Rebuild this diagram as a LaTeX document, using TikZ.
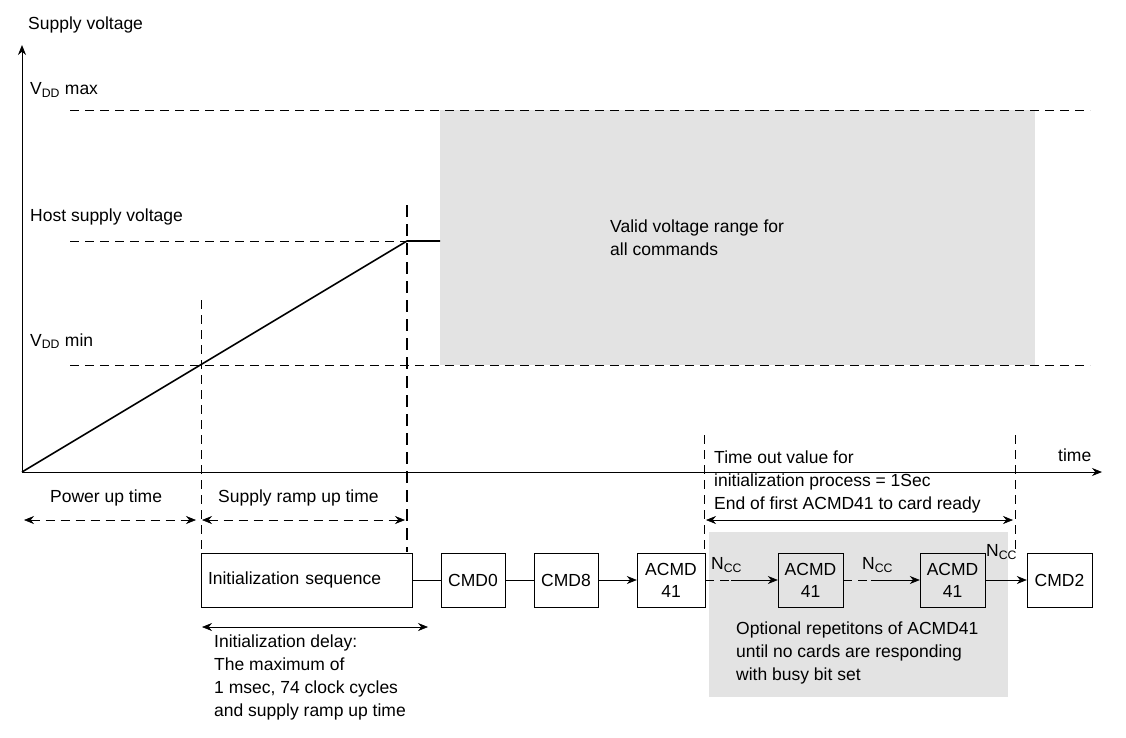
\documentclass[tikz,border=0pt]{standalone}
\usepackage{fontspec}
\setmainfont{Liberation Sans}
\usetikzlibrary{arrows.meta}
\begin{document}
\begin{tikzpicture}[x=1pt,y=-1pt,
  txt/.style={anchor=west,inner sep=0,font=\fontsize{17.5}{23}\selectfont,align=left},
  box/.style={draw,minimum height=54,inner sep=0,font=\fontsize{17.5}{22}\selectfont,align=center},
  dsh/.style={dash pattern=on 9pt off 6pt,line width=0.6pt},
  ar/.style={-{Stealth[length=10pt,width=8pt]},line width=0.6pt},
  dar/.style={{Stealth[length=10pt,width=8pt]}-{Stealth[length=10pt,width=8pt]},line width=0.6pt}]
\useasboundingbox (0,0) rectangle (1126,737);
\fill[gray!22] (440,110) rectangle (1035,365);
\fill[gray!22] (709,532) rectangle (1008,697);
% axes
\coordinate (o) at (22,472);
\coordinate (ytop) at (22,45);
\coordinate (xend) at (1102,472);
\draw[ar,line width=0.9pt] (o) -- (ytop);
\draw[ar,line width=0.9pt] (o) -- (xend);
\node[txt] (sv) at (28,25) {Supply voltage};
\node[txt] (tm) at (1058,455) {time};
% levels
\coordinate (m1) at (70,110); \coordinate (m2) at (1090,110);
\draw[dsh] (m1) -- (m2);
\coordinate (h1) at (70,241); \coordinate (h2) at (405,241);
\draw[dsh] (h1) -- (h2);
\coordinate (n1) at (70,365); \coordinate (n2) at (1090,365);
\draw[dsh] (n1) -- (n2);
\node[txt] (vmax) at (30,90) {V\textsubscript{DD} max};
\node[txt] (hsv) at (30,217) {Host supply voltage};
\node[txt] (vmin) at (30,341) {V\textsubscript{DD} min};
\node[txt] (valid) at (610,238) {Valid voltage range for\\all commands};
% ramp
\coordinate (rt) at (407,241); \coordinate (re) at (440,241);
\draw[line width=1.6pt] (o) -- (rt) -- (re);
% verticals
\coordinate (v1a) at (407,205); \coordinate (v1b) at (407,552);
\draw[line width=2.2pt,dash pattern=on 12pt off 7pt] (v1a) -- (v1b);
\coordinate (v2a) at (201,300); \coordinate (v2b) at (201,552);
\draw[dsh] (v2a) -- (v2b);
\coordinate (v3a) at (704,435); \coordinate (v3b) at (704,553);
\draw[dsh] (v3a) -- (v3b);
\coordinate (v4a) at (1015,435); \coordinate (v4b) at (1015,553);
\draw[dsh] (v4a) -- (v4b);
% time spans
\coordinate (p1) at (24,520); \coordinate (p2) at (196,520);
\draw[dar,dsh] (p1) -- (p2);
\node[txt] (pu) at (50,498) {Power up time};
\coordinate (s1) at (202,520); \coordinate (s2) at (405,520);
\draw[dar,dsh] (s1) -- (s2);
\node[txt] (sr) at (218,498) {Supply ramp up time};
\coordinate (t1) at (706,520); \coordinate (t2) at (1013,520);
\draw[dar] (t1) -- (t2);
\node[txt,anchor=north west] (to) at (714,451) {Time out value for\\initialization process = 1Sec\\End of first ACMD41 to card ready};
\coordinate (d1) at (202,627); \coordinate (d2) at (428,627);
\draw[dar] (d1) -- (d2);
\node[txt,anchor=north west] (dl) at (214,635) {Initialization delay:\\The maximum of\\1 msec, 74 clock cycles\\and supply ramp up time};
\node[txt,anchor=north west] (opt) at (736,622) {Optional repetitons of ACMD41\\until no cards are responding\\with busy bit set};
% sequence
\node[box,minimum width=211,text width=197,align=left] (init) at (306.5,580) {Initialization sequence};
\node[box,minimum width=64] (c0) at (473,580) {CMD0};
\node[box,minimum width=64] (c8) at (566,580) {CMD8};
\node[box,minimum width=68] (a1) at (671,580) {ACMD\\41};
\node[box,minimum width=65,fill=gray!22] (a2) at (810.5,580) {ACMD\\41};
\node[box,minimum width=65,fill=gray!22] (a3) at (952.5,580) {ACMD\\41};
\node[box,minimum width=65] (c2) at (1059.5,580) {CMD2};
\draw[line width=0.6pt] (init) -- (c0);
\draw[line width=0.6pt] (c0) -- (c8);
\draw[ar] (c8) -- (a1);
\draw[dsh,line width=0.6pt] (a1) -- ++(60,0) coordinate (e1);
\draw[ar] (e1) -- (a2);
\draw[dsh,line width=0.6pt] (a2) -- ++(60,0) coordinate (e2);
\draw[ar] (e2) -- (a3);
\draw[ar] (a3) -- (c2);
\node[txt] (n1l) at (711,565) {N\textsubscript{CC}};
\node[txt] (n2l) at (862,565) {N\textsubscript{CC}};
\node[txt] (n3l) at (986,552) {N\textsubscript{CC}};
\end{tikzpicture}
\end{document}
